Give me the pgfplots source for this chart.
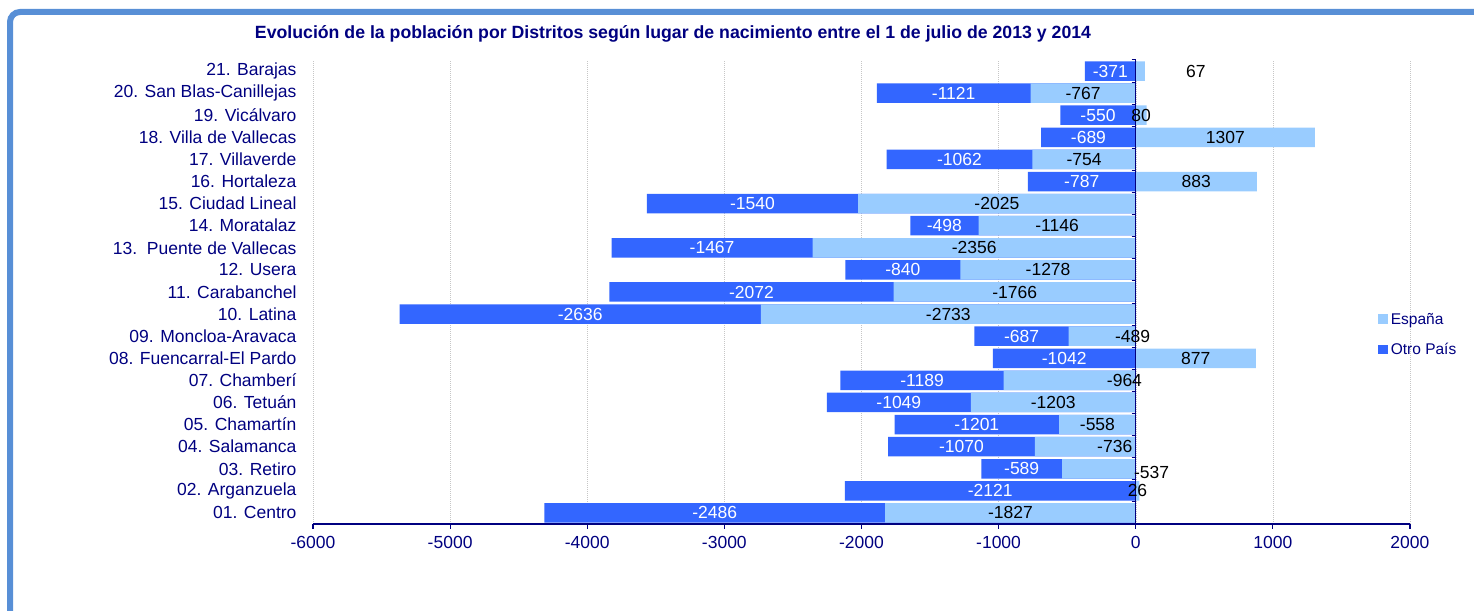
\documentclass[border=0pt]{standalone}
\usepackage{fontspec}
\setmainfont{Liberation Sans}
\usepackage{pgfplots}
\usepackage{pgfplotstable}
\pgfplotsset{compat=1.18}

\definecolor{espana}{HTML}{99CCFF}
\definecolor{otro}{HTML}{3366FF}
\definecolor{marino}{HTML}{000080}
\definecolor{marco}{RGB}{88,143,214}

% idx 0 = 01. Centro ... idx 20 = 21. Barajas
% Eoff / Edy: shift of the España label, as Excel placed it
\pgfplotstableread{
idx E O Eoff Edy
0 -1827 -2486 0 0
1 26 -2121 0 0
2 -537 -589 385 -0.18
3 -736 -1070 215 0
4 -558 -1201 0 0
5 -1203 -1049 0 0
6 -964 -1189 400 0
7 877 -1042 0 0
8 -489 -687 222 0
9 -2733 -2636 0 0
10 -1766 -2072 0 0
11 -1278 -840 0 0
12 -2356 -1467 0 0
13 -1146 -498 0 0
14 -2025 -1540 0 0
15 883 -787 0 0
16 -754 -1062 0 0
17 1307 -689 0 0
18 80 -550 0 0
19 -767 -1121 0 0
20 67 -371 405 0
}\distritos

\newcommand{\lblfont}{\fontsize{17.5}{20}\selectfont}

\begin{document}
\begin{tikzpicture}[x=1pt,y=1pt]
\path[use as bounding box] (0,0) rectangle (1474,610);
\begin{scope}
\clip (0,0) rectangle (1474,610);
\draw[marco, line width=6pt, rounded corners=10pt] (10,598) rectangle (1520,-40);
\end{scope}

\node[font=\bfseries\fontsize{17.7}{21}\selectfont, text=marino] at (673,576)
  {Evolución de la población por Distritos según lugar de nacimiento entre el 1 de julio de 2013 y 2014};

\begin{axis}[
  at={(313pt,86pt)}, anchor=south west,
  scale only axis, width=1097pt, height=464pt,
  xmin=-6000, xmax=2000, ymin=-0.5, ymax=20.5,
  xtick={-6000,-5000,...,2000},
  xticklabels={-6000,-5000,-4000,-3000,-2000,-1000,0,1000,2000},
  ytick={0,...,20},
  yticklabels={01. Centro,02. Arganzuela,03. Retiro,04. Salamanca,05. Chamartín,
    06. Tetuán,07. Chamberí,08. Fuencarral-El Pardo,09. Moncloa-Aravaca,10. Latina,
    11. Carabanchel,12. Usera,13.\ \ Puente de Vallecas,14. Moratalaz,15. Ciudad Lineal,
    16. Hortaleza,17. Villaverde,18. Villa de Vallecas,19. Vicálvaro,
    20. San Blas-Canillejas,21. Barajas},
  axis x line*=bottom, axis y line*=left,
  x axis line style={marino, line width=1.5pt, -},
  y axis line style={draw=none},
  xtick style={marino, line width=1.2pt},
  ytick style={draw=none},
  tick align=outside, major tick length=5pt,
  xmajorgrids,
  grid style={gray!45, dash pattern=on 1pt off 1pt},
  tick label style={font=\fontsize{17.5}{20}\selectfont, text=marino},
  x tick label style={yshift=-4pt},
  y tick label style={xshift=-8pt},
  legend style={at={(0.969,0.408)}, anchor=west, draw=none, fill=none,
    font=\fontsize{15.5}{18}\selectfont, text=marino, row sep=14pt,
    inner sep=2pt},
  legend cell align=left,
  legend image code/.code={\path[#1, draw=none] (0pt,-4.5pt) rectangle (9.5pt,5pt); \path (10.5pt,0pt);},
]
% Otro País: drawn from 0 past the negative España part
\addplot[xbar, bar width=19.5pt, bar shift=0pt, fill=otro, draw=none, forget plot]
  table[x expr={min(\thisrow{E},0)+\thisrow{O}}, y=idx]{\distritos};
\addplot[xbar, bar width=19.5pt, bar shift=0pt, fill=espana, draw=none, forget plot]
  table[x=E, y=idx]{\distritos};

\draw[marino, line width=1.5pt] (axis cs:0,-0.5) -- (axis cs:0,20.5);
\pgfplotsinvokeforeach{0,...,21}{
  \draw[marino, line width=1pt] ([xshift=-4pt]axis cs:0,#1-0.5) -- (axis cs:0,#1-0.5);
}

% value labels
\addplot[only marks, mark=none, forget plot, nodes near coords,
  point meta=explicit symbolic, nodes near coords align=center,
  every node near coord/.append style={font=\lblfont, text=white, inner sep=0pt}]
  table[x expr={min(\thisrow{E},0)+\thisrow{O}/2}, y=idx, meta=O]{\distritos};
\addplot[only marks, mark=none, forget plot, nodes near coords,
  point meta=explicit symbolic, nodes near coords align=center,
  every node near coord/.append style={font=\lblfont, text=black, inner sep=0pt}]
  table[x expr={\thisrow{E}/2+\thisrow{Eoff}}, y expr={\thisrow{idx}+\thisrow{Edy}}, meta=E]{\distritos};

\addlegendimage{fill=espana}
\addlegendentry{España}
\addlegendimage{fill=otro}
\addlegendentry{Otro País}
\end{axis}
\end{tikzpicture}
\end{document}
